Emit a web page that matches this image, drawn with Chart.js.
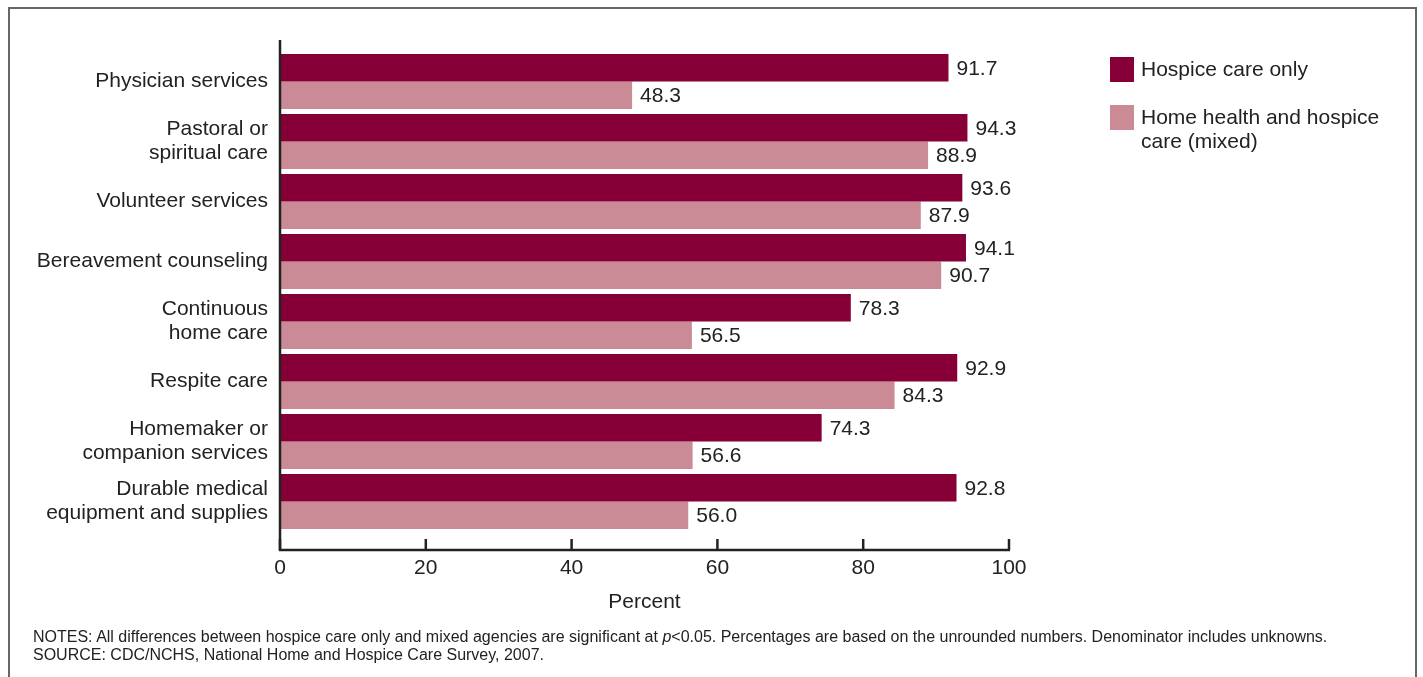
<!DOCTYPE html>
<html>
<head>
<meta charset="utf-8">
<script src="https://cdn.jsdelivr.net/npm/chart.js@4.4.1/dist/chart.umd.min.js"></script>
<style>
  html, body { margin: 0; padding: 0; background: #fff; }
  body { width: 1423px; height: 677px; position: relative; overflow: hidden; font-family: "Liberation Sans", Arial, sans-serif; color: #222; }
  #frame { position: absolute; left: 8px; top: 7px; width: 1409px; height: 720px; border: 2px solid #666; box-sizing: border-box; }
  #wrap { position: absolute; left: 0; top: 0; width: 1423px; height: 677px; }
  #legend { position: absolute; left: 1110px; top: 57px; font-size: 21px; line-height: 24px; color: #222; }
  .item { position: relative; padding-left: 31px; }
  .sw { position: absolute; left: 0; top: 0; width: 24px; height: 25px; }
  #notes { position: absolute; left: 33px; top: 628px; font-size: 16px; line-height: 18px; color: #222; white-space: nowrap; }
</style>
</head>
<body>
<div id="frame"></div>
<div id="wrap"><canvas id="c" width="1423" height="677"></canvas></div>
<div id="legend"></div>
<div id="notes">NOTES: All differences between hospice care only and mixed agencies are significant at <i>p</i>&lt;0.05. Percentages are based on the unrounded numbers. Denominator includes unknowns.<br>SOURCE: CDC/NCHS, National Home and Hospice Care Survey, 2007.</div>
<script>
const categories = [
  "Physician services",
  ["Pastoral or", "spiritual care"],
  "Volunteer services",
  "Bereavement counseling",
  ["Continuous", "home care"],
  "Respite care",
  ["Homemaker or", "companion services"],
  ["Durable medical", "equipment and supplies"]
];
const hospiceOnly = [91.7, 94.3, 93.6, 94.1, 78.3, 92.9, 74.3, 92.8];
const mixed = [48.3, 88.9, 87.9, 90.7, 56.5, 84.3, 56.6, 56.0];
const xTicks = [0, 20, 40, 60, 80, 100];
const seriesNames = ["Hospice care only", "Home health and hospice care (mixed)"];
const seriesColors = ["#860037", "#ca8b96"];

// HTML legend
const legendEl = document.getElementById('legend');
legendEl.innerHTML =
  '<div class="item" style="margin-bottom:24px"><span class="sw" style="background:' + seriesColors[0] + '"></span>' + seriesNames[0] + '</div>' +
  '<div class="item"><span class="sw" style="background:' + seriesColors[1] + '"></span>Home health and hospice<br>care (mixed)</div>';

const FONT = '"Liberation Sans", Arial, sans-serif';
const FS = 21;

const axesPlugin = {
  id: 'axesPlugin',
  afterDraw(chart) {
    const ctx = chart.ctx;
    const xs = chart.scales.x;
    const area = chart.chartArea;
    const axisY = 550;
    const axisTop = 40;
    ctx.save();
    ctx.strokeStyle = '#222';
    ctx.lineWidth = 2.5;
    ctx.beginPath();
    ctx.moveTo(area.left, axisTop);
    ctx.lineTo(area.left, axisY + 1);
    ctx.stroke();
    ctx.beginPath();
    ctx.moveTo(area.left - 1, axisY);
    ctx.lineTo(xs.getPixelForValue(100) + 1, axisY);
    ctx.stroke();
    ctx.fillStyle = '#222';
    ctx.font = FS + 'px ' + FONT;
    ctx.textAlign = 'center';
    ctx.textBaseline = 'middle';
    xTicks.forEach(v => {
      const px = xs.getPixelForValue(v);
      ctx.beginPath();
      ctx.moveTo(px, axisY - 11);
      ctx.lineTo(px, axisY);
      ctx.stroke();
      ctx.fillText(String(v), px, 568);
    });
    ctx.fillText('Percent', (xs.getPixelForValue(0) + xs.getPixelForValue(100)) / 2, 602);
    ctx.restore();
  },
  afterDatasetsDraw(chart) {
    const ctx = chart.ctx;
    ctx.save();
    ctx.fillStyle = '#222';
    ctx.font = FS + 'px ' + FONT;
    ctx.textAlign = 'left';
    ctx.textBaseline = 'middle';
    chart.data.datasets.forEach((ds, i) => {
      const meta = chart.getDatasetMeta(i);
      meta.data.forEach((bar, j) => {
        ctx.fillText(ds.data[j].toFixed(1), bar.x + 8, bar.y + 1);
      });
    });
    ctx.restore();
  }
};

new Chart(document.getElementById('c'), {
  type: 'bar',
  data: {
    labels: categories,
    datasets: [
      { label: seriesNames[0], data: hospiceOnly, backgroundColor: seriesColors[0] },
      { label: seriesNames[1], data: mixed, backgroundColor: seriesColors[1] }
    ]
  },
  options: {
    indexAxis: 'y',
    responsive: false,
    animation: false,
    devicePixelRatio: 1,
    layout: { padding: { left: 0, right: 414, top: 51.5, bottom: 145.5 } },
    datasets: { bar: { barPercentage: 1.0, categoryPercentage: 55 / 60 } },
    plugins: { legend: { display: false }, tooltip: { enabled: false } },
    scales: {
      x: {
        min: 0, max: 100,
        ticks: { display: false },
        grid: { display: false },
        border: { display: false },
        afterFit(s) { s.height = 0; }
      },
      y: {
        ticks: { color: '#222', font: { family: FONT, size: FS, lineHeight: 24 / 21 }, padding: 4 },
        grid: { display: false },
        border: { display: false },
        afterFit(s) { s.width = 280; }
      }
    }
  },
  plugins: [axesPlugin]
});
</script>
</body>
</html>
